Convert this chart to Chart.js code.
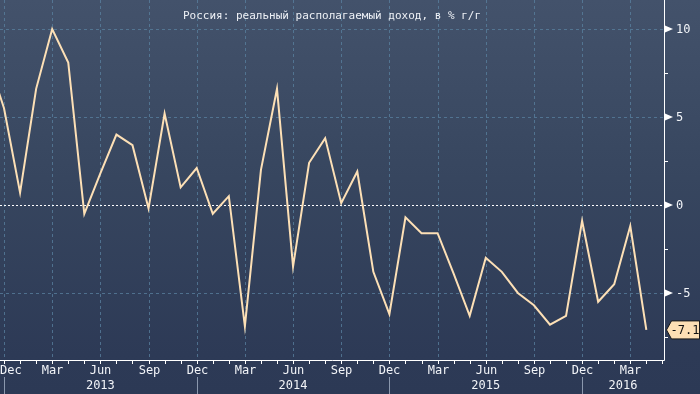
<!DOCTYPE html>
<html>
<head>
<meta charset="utf-8">
<script src="https://cdn.jsdelivr.net/npm/chart.js@4/dist/chart.umd.min.js"></script>
<style>
html,body{margin:0;padding:0;background:#2d3a56;}
#c{display:block;}
</style>
</head>
<body>
<canvas id="c" width="700" height="394"></canvas>
<script>
// ---- DATA ----
const chartTitle = 'Россия: реальный располагаемый доход, в % г/г';
const months = [
  '2012-11','2012-12',
  '2013-01','2013-02','2013-03','2013-04','2013-05','2013-06','2013-07','2013-08','2013-09','2013-10','2013-11','2013-12',
  '2014-01','2014-02','2014-03','2014-04','2014-05','2014-06','2014-07','2014-08','2014-09','2014-10','2014-11','2014-12',
  '2015-01','2015-02','2015-03','2015-04','2015-05','2015-06','2015-07','2015-08','2015-09','2015-10','2015-11','2015-12',
  '2016-01','2016-02','2016-03','2016-04'
];
const incomeYoY = [
  8.3, 5.5,
  0.7, 6.6, 10.0, 8.1, -0.5, 1.8, 4.0, 3.4, -0.2, 5.2, 1.0, 2.1,
  -0.5, 0.5, -6.9, 2.0, 6.6, -3.5, 2.4, 3.8, 0.1, 1.9, -3.8, -6.2,
  -0.7, -1.6, -1.6, -3.9, -6.3, -3.0, -3.8, -5.0, -5.7, -6.8, -6.3, -0.9,
  -5.5, -4.5, -1.2, -7.1
];
const monthTickNames = {'12':'Dec','03':'Mar','06':'Jun','09':'Sep'};
const yearLabels = ['2013','2014','2015','2016'];
const yMajorTicks = [10, 5, 0, -5];
const yMinorTicks = [7.5, 2.5, -2.5, -7.5];
const lastValueLabel = '-7.1';

// ---- STYLE ----
const FONT = '"DejaVu Sans Mono", monospace';
const LINE_COLOR = '#fde0b6';
const GRID_COLOR = 'rgba(90,130,160,0.75)';

const points = incomeYoY.map((v, i) => ({x: i, y: v}));

const bloombergPlugin = {
  id: 'bloomberg',
  beforeDraw(chart) {
    const ctx = chart.ctx;
    const g = ctx.createLinearGradient(0, 0, 0, chart.height);
    g.addColorStop(0, '#43526b');
    g.addColorStop(0.45, '#37465f');
    g.addColorStop(0.9, '#2d3a56');
    g.addColorStop(1, '#2c3955');
    ctx.save();
    ctx.fillStyle = g;
    ctx.fillRect(0, 0, chart.width, chart.height);
    ctx.restore();
  },
  beforeDatasetsDraw(chart) {
    const {ctx, chartArea: a, scales: {x, y}} = chart;
    ctx.save();
    ctx.lineWidth = 1;
    ctx.strokeStyle = GRID_COLOR;
    ctx.setLineDash([3, 3]);
    months.forEach((m, i) => {
      const mm = m.slice(5);
      if (monthTickNames[mm]) {
        const px = Math.round(x.getPixelForValue(i)) + 0.5;
        if (px < a.left || px > a.right) return;
        ctx.beginPath();
        ctx.moveTo(px, a.top);
        ctx.lineTo(px, a.bottom);
        ctx.stroke();
      }
    });
    yMajorTicks.forEach(v => {
      const py = Math.round(y.getPixelForValue(v)) + 0.5;
      ctx.beginPath();
      if (v === 0) {
        ctx.strokeStyle = '#ffffff';
        ctx.setLineDash([2, 2]);
      } else {
        ctx.strokeStyle = GRID_COLOR;
        ctx.setLineDash([3, 3]);
      }
      ctx.moveTo(a.left, py);
      ctx.lineTo(a.right, py);
      ctx.stroke();
    });
    ctx.restore();
  },
  afterDatasetsDraw(chart) {
    const {ctx, chartArea: a, scales: {x, y}} = chart;
    ctx.save();
    ctx.setLineDash([]);
    ctx.strokeStyle = '#ffffff';
    ctx.fillStyle = '#ffffff';
    ctx.lineWidth = 1;
    ctx.beginPath();
    ctx.moveTo(a.left, a.bottom + 0.5);
    ctx.lineTo(a.right + 0.5, a.bottom + 0.5);
    ctx.moveTo(a.right + 0.5, a.top);
    ctx.lineTo(a.right + 0.5, a.bottom + 0.5);
    ctx.stroke();

    ctx.font = '12px ' + FONT;
    ctx.textAlign = 'center';
    ctx.textBaseline = 'middle';
    ctx.fillStyle = '#f2f4f8';
    const lastIdx = x.max;
    for (let i = 0; i <= Math.ceil(lastIdx); i++) {
      const px = Math.round(x.getPixelForValue(i)) + 0.5;
      if (px < a.left || px > a.right + 1) continue;
      ctx.beginPath();
      ctx.moveTo(px, a.bottom);
      ctx.lineTo(px, a.bottom + 4);
      ctx.stroke();
      if (i < months.length) {
        const name = monthTickNames[months[i].slice(5)];
        if (name) {
          const w = ctx.measureText(name).width;
          const cx = Math.max(px, a.left + w / 2);
          ctx.fillText(name, cx, a.bottom + 11);
        }
      }
    }
    const decIdx = [];
    months.forEach((m, i) => { if (m.slice(5) === '12') decIdx.push(i); });
    ctx.strokeStyle = '#8a97ad';
    decIdx.forEach(i => {
      const px = Math.round(x.getPixelForValue(i)) + 0.5;
      ctx.beginPath();
      ctx.moveTo(px, a.bottom + 17);
      ctx.lineTo(px, chart.height);
      ctx.stroke();
    });
    yearLabels.forEach((yl, k) => {
      const start = x.getPixelForValue(decIdx[k]);
      const end = k + 1 < decIdx.length ? x.getPixelForValue(decIdx[k + 1]) : a.right;
      ctx.fillText(yl, (start + end) / 2, a.bottom + 26);
    });

    ctx.strokeStyle = '#ffffff';
    ctx.fillStyle = '#ffffff';
    ctx.textAlign = 'left';
    yMajorTicks.forEach(v => {
      const py = y.getPixelForValue(v);
      ctx.beginPath();
      ctx.moveTo(a.right + 1, py - 3.5);
      ctx.lineTo(a.right + 9, py);
      ctx.lineTo(a.right + 1, py + 3.5);
      ctx.closePath();
      ctx.fill();
      ctx.fillStyle = '#f2f4f8';
      ctx.fillText(String(v), a.right + 12, py + 1);
      ctx.fillStyle = '#ffffff';
    });
    yMinorTicks.forEach(v => {
      const py = Math.round(y.getPixelForValue(v)) + 0.5;
      ctx.beginPath();
      ctx.moveTo(a.right, py);
      ctx.lineTo(a.right + 4, py);
      ctx.stroke();
    });

    const lastY = y.getPixelForValue(incomeYoY[incomeYoY.length - 1]);
    const bx = a.right + 2.5, h = 18;
    ctx.beginPath();
    ctx.moveTo(bx, lastY);
    ctx.lineTo(bx + 5, lastY - h / 2);
    ctx.lineTo(chart.width - 0.5, lastY - h / 2);
    ctx.lineTo(chart.width - 0.5, lastY + h / 2);
    ctx.lineTo(bx + 5, lastY + h / 2);
    ctx.closePath();
    ctx.fillStyle = '#fddfb4';
    ctx.fill();
    ctx.strokeStyle = '#1a1a1a';
    ctx.stroke();
    ctx.fillStyle = '#111111';
    ctx.textAlign = 'center';
    ctx.font = '12px ' + FONT;
    ctx.fillText(lastValueLabel, 685, lastY + 1);

    ctx.font = '11px ' + FONT;
    ctx.fillStyle = '#eef1f6';
    ctx.textAlign = 'center';
    ctx.fillText(chartTitle, 332, 16);
    ctx.restore();
  }
};

new Chart(document.getElementById('c'), {
  type: 'line',
  data: {
    datasets: [{
      label: chartTitle,
      data: points,
      borderColor: LINE_COLOR,
      borderWidth: 2,
      pointRadius: 0,
      tension: 0,
      fill: false
    }]
  },
  options: {
    responsive: false,
    devicePixelRatio: 1,
    animation: false,
    layout: {padding: {left: 0, top: 0, right: 36, bottom: 34}},
    plugins: {legend: {display: false}, tooltip: {enabled: false}, title: {display: false}},
    scales: {
      x: {type: 'linear', display: false, min: 0.75, max: 42.1},
      y: {type: 'linear', display: false, min: -8.81, max: 11.65}
    }
  },
  plugins: [bloombergPlugin]
});
</script>
</body>
</html>
